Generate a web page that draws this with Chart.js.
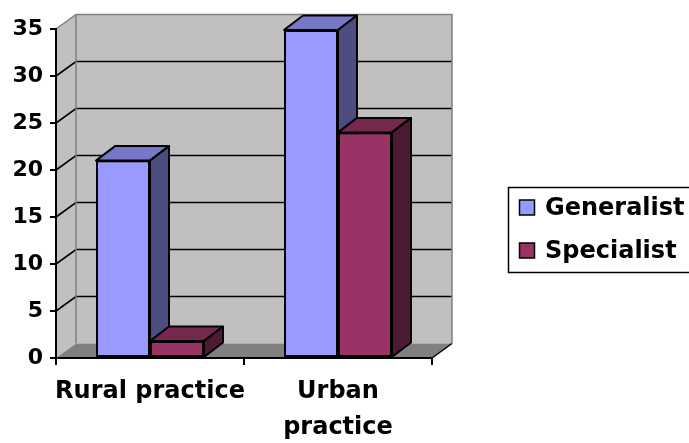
<!DOCTYPE html>
<html>
<head>
<meta charset="utf-8">
<script src="https://cdn.jsdelivr.net/npm/chart.js@4/dist/chart.umd.min.js"></script>
<style>
  html, body { margin: 0; padding: 0; background: #fff; }
  canvas { display: block; }
</style>
</head>
<body>
<canvas id="chart" width="689" height="443"></canvas>
<script>
// ---- data ----
const categories = ['Rural practice', ['Urban', 'practice']];
const seriesNames = ['Generalist', 'Specialist'];
const generalist = [21, 34.9];
const specialist = [1.8, 24];
const yTicks = [0, 5, 10, 15, 20, 25, 30, 35];

// ---- styling ----
const FONT = "'DejaVu Sans', sans-serif";
const FRONT = ['#9999FF', '#993366'];
const TOP = ['#7777C7', '#77284F'];
const SIDE = ['#4D4D80', '#4D1A33'];
const WALL = '#C0C0C0';
const FLOOR = '#808080';
const EDGE = '#808080';
const DX = 20, DY = -14.5;      // wall depth offset
const BAR_DX = 19;              // bar depth offset

// Back wall, side wall, floor and their gridlines (drawn behind everything)
const walls = {
  id: 'walls',
  beforeDraw(chart) {
    const { ctx, chartArea: a, scales: { y } } = chart;
    const L = a.left, R = a.right;
    const T = y.getPixelForValue(yTicks[yTicks.length - 1]);
    const B = y.getPixelForValue(yTicks[0]);
    ctx.save();
    ctx.fillStyle = WALL;
    ctx.fillRect(L + DX, T + DY, R - L, B - T);
    ctx.beginPath();
    ctx.moveTo(L, T); ctx.lineTo(L + DX, T + DY);
    ctx.lineTo(L + DX, B + DY); ctx.lineTo(L, B);
    ctx.closePath(); ctx.fill();
    ctx.fillStyle = FLOOR;
    ctx.beginPath();
    ctx.moveTo(L, B); ctx.lineTo(R, B);
    ctx.lineTo(R + DX, B + DY); ctx.lineTo(L + DX, B + DY);
    ctx.closePath(); ctx.fill();

    // gridlines across side wall and back wall
    ctx.strokeStyle = '#000';
    ctx.lineWidth = 1.6;
    yTicks.slice(1, -1).forEach(v => {
      const p = y.getPixelForValue(v);
      ctx.beginPath();
      ctx.moveTo(L, p); ctx.lineTo(L + DX, p + DY); ctx.lineTo(R + DX, p + DY);
      ctx.stroke();
    });

    // wall edges
    ctx.strokeStyle = EDGE;
    ctx.lineWidth = 1.5;
    ctx.beginPath();
    ctx.moveTo(L, T); ctx.lineTo(L + DX, T + DY); ctx.lineTo(R + DX, T + DY); ctx.lineTo(R + DX, B + DY);
    ctx.moveTo(L + DX, T + DY); ctx.lineTo(L + DX, B + DY);
    ctx.stroke();
    ctx.strokeStyle = '#000';
    ctx.beginPath();
    ctx.moveTo(R, B); ctx.lineTo(R + DX, B + DY);
    ctx.stroke();
    ctx.restore();
  }
};

// Extrude each bar: redraw front face in series order, then top and side faces
const extrude = {
  id: 'extrude',
  afterDatasetsDraw(chart) {
    const ctx = chart.ctx;
    chart.data.datasets.forEach((ds, di) => {
      const meta = chart.getDatasetMeta(di);
      meta.data.forEach(bar => {
        const { x, y, base, width } = bar.getProps(['x', 'y', 'base', 'width'], true);
        const l = x - width / 2, r = x + width / 2;
        bar.draw(ctx);
        ctx.save();
        ctx.lineWidth = 2;
        ctx.strokeStyle = '#000';
        ctx.lineJoin = 'round';
        ctx.fillStyle = TOP[di];
        ctx.beginPath();
        ctx.moveTo(l, y); ctx.lineTo(r, y);
        ctx.lineTo(r + BAR_DX, y + DY); ctx.lineTo(l + BAR_DX, y + DY);
        ctx.closePath(); ctx.fill(); ctx.stroke();
        ctx.fillStyle = SIDE[di];
        ctx.beginPath();
        ctx.moveTo(r, y); ctx.lineTo(r + BAR_DX, y + DY);
        ctx.lineTo(r + BAR_DX, base + DY); ctx.lineTo(r, base);
        ctx.closePath(); ctx.fill(); ctx.stroke();
        ctx.restore();
      });
    });
  }
};

// Boxed legend on the right
const boxLegend = {
  id: 'boxLegend',
  afterDraw(chart) {
    const ctx = chart.ctx;
    ctx.save();
    ctx.lineWidth = 1.5;
    ctx.strokeStyle = '#000';
    ctx.strokeRect(508.5, 187.5, 220, 85);
    ctx.font = `bold 24px ${FONT}`;
    ctx.textBaseline = 'middle';
    ctx.textAlign = 'left';
    chart.data.datasets.forEach((ds, i) => {
      const cy = 207.5 + i * 43;
      ctx.fillStyle = ds.backgroundColor;
      ctx.fillRect(519.5, cy - 7.5, 15, 15);
      ctx.strokeRect(519.5, cy - 7.5, 15, 15);
      ctx.fillStyle = '#000';
      ctx.fillText(ds.label, 545, cy + 1);
    });
    ctx.restore();
  }
};

new Chart(document.getElementById('chart'), {
  type: 'bar',
  data: {
    labels: categories,
    datasets: [
      { label: seriesNames[0], data: generalist, backgroundColor: FRONT[0] },
      { label: seriesNames[1], data: specialist, backgroundColor: FRONT[1] }
    ]
  },
  options: {
    responsive: false,
    animation: false,
    layout: { padding: { top: 29, right: 257, left: 0, bottom: 0 } },
    datasets: {
      bar: {
        categoryPercentage: 0.5745,
        barPercentage: 1,
        borderColor: '#000',
        borderWidth: 2,
        borderSkipped: false
      }
    },
    plugins: {
      legend: { display: false },
      tooltip: { enabled: false }
    },
    scales: {
      x: {
        grid: { drawOnChartArea: false, tickLength: 7, color: '#000', lineWidth: 2 },
        border: { color: '#000', width: 2 },
        ticks: {
          color: '#000', padding: 9, maxRotation: 0, autoSkip: false,
          font: { family: FONT, weight: 'bold', size: 24, lineHeight: 1.5 }
        },
        afterFit: s => { s.height = 85; }
      },
      y: {
        min: yTicks[0],
        max: yTicks[yTicks.length - 1],
        grid: { drawOnChartArea: false, tickLength: 6, color: '#000', lineWidth: 2 },
        border: { color: '#000', width: 2 },
        ticks: {
          color: '#000', padding: 7,
          font: { family: FONT, weight: 'bold', size: 22 }
        },
        afterBuildTicks: s => { s.ticks = yTicks.map(v => ({ value: v })); },
        afterFit: s => { s.width = 56; }
      }
    }
  },
  plugins: [walls, extrude, boxLegend]
});
</script>
</body>
</html>
